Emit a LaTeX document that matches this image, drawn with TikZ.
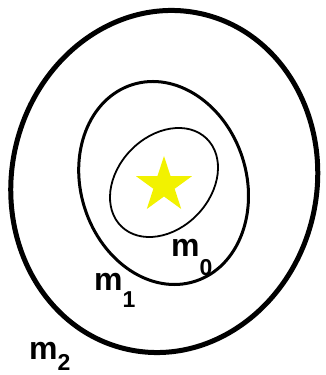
\documentclass[tikz,border=0pt]{standalone}
\usepackage{fontspec}
\setmainfont{Liberation Sans}
\definecolor{staryellow}{RGB}{242,242,0}
\newcommand{\lblsub}[2]{\raisebox{#1}{\fontsize{23}{23}\selectfont\bfseries #2}}
\begin{document}
\begin{tikzpicture}[x=1pt,y=1pt,
  ring/.style={draw=black},
  lbl/.style={anchor=base west,inner sep=0pt,font=\fontsize{32}{32}\selectfont\bfseries}]
\useasboundingbox (0,0) rectangle (326,375);
% outer ring
\draw[ring,line width=5pt] (164.25,193.5) ellipse [x radius=152.6, y radius=171.8, rotate=-12];
% middle ring
\draw[ring,line width=3pt] (163.6,192) ellipse [x radius=82.8, y radius=103.2, rotate=17.7];
% inner ring
\draw[ring,line width=1.8pt] (164,192.5) ellipse [x radius=46.3, y radius=61.2, rotate=-44];
% star
\fill[staryellow,shift={(164,189.7)}]
  (90:29.3) -- (126:11.2) -- (162:29.3) -- (198:11.2) -- (234:29.3) --
  (270:11.2) -- (306:29.3) -- (342:11.2) -- (18:29.3) -- (54:11.2) -- cycle;
% labels
\node[lbl] (m0) at (171,118) {m\lblsub{-19pt}{0}};
\node[lbl] (m1) at (94,84) {m\lblsub{-17pt}{1}};
\node[lbl] (m2) at (29,16) {m\lblsub{-11pt}{2}};
\end{tikzpicture}
\end{document}
